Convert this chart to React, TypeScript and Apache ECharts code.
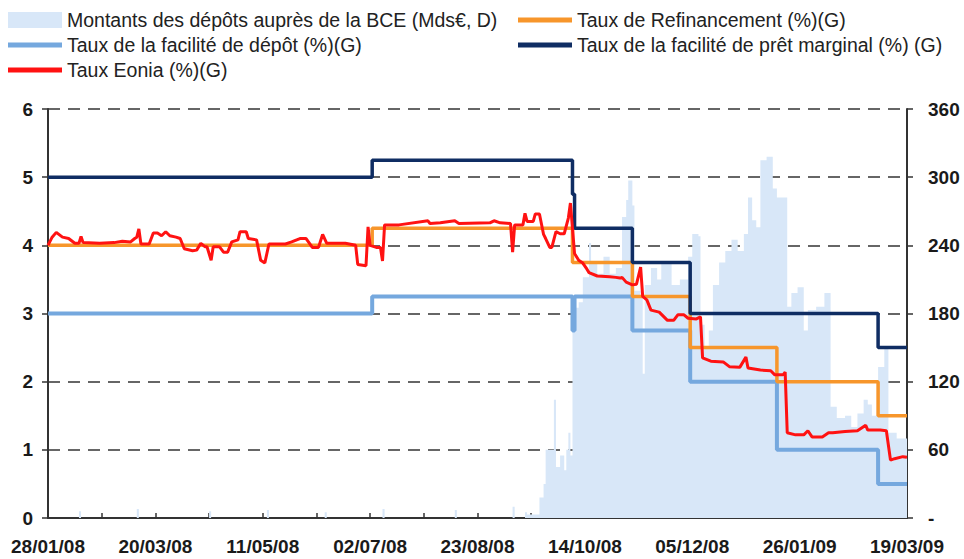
import React, { useEffect, useRef } from "react";
import * as echarts from "echarts";

// ---------- data ----------
const xTickLabels = ["28/01/08", "20/03/08", "11/05/08", "02/07/08", "23/08/08", "14/10/08", "05/12/08", "26/01/09", "19/03/09"];
const leftTicks = [0, 1, 2, 3, 4, 5, 6];
const rightTicks = [0, 60, 120, 180, 240, 300, 360];

const N_AMT = "Montants des dépôts auprès de la BCE (Mds€, D)";
const N_MRO = "Taux de Refinancement (%)(G)";
const N_DEP = "Taux de la facilité de dépôt (%)(G)";
const N_MLF = "Taux de la facilité de prêt marginal (%) (G)";
const N_EONIA = "Taux Eonia (%)(G)";

// Deposits at the ECB (bn €, right axis)
const amountDates = [
  "2008-01-28", "2008-02-12", "2008-02-13", "2008-03-11", "2008-03-12", "2008-04-15", "2008-04-16",
  "2008-05-13", "2008-05-14", "2008-06-10", "2008-06-11", "2008-07-08", "2008-07-09", "2008-08-12",
  "2008-08-13", "2008-09-09", "2008-09-10", "2008-09-15", "2008-09-16", "2008-09-22", "2008-09-24",
  "2008-09-25", "2008-09-29", "2008-09-30", "2008-10-02", "2008-10-04", "2008-10-05", "2008-10-06",
  "2008-10-07", "2008-10-08", "2008-10-11", "2008-10-13", "2008-10-16", "2008-10-17", "2008-10-20",
  "2008-10-23", "2008-10-26", "2008-10-29", "2008-11-01", "2008-11-03", "2008-11-04", "2008-11-06",
  "2008-11-07", "2008-11-10", "2008-11-11", "2008-11-12", "2008-11-15", "2008-11-18", "2008-11-20",
  "2008-11-25", "2008-11-29", "2008-12-03", "2008-12-05", "2008-12-08", "2008-12-09", "2008-12-11",
  "2008-12-13", "2008-12-15", "2008-12-18", "2008-12-21", "2008-12-24", "2008-12-27", "2008-12-30",
  "2009-01-01", "2009-01-03", "2009-01-05", "2009-01-07", "2009-01-10", "2009-01-13", "2009-01-15",
  "2009-01-20", "2009-01-22", "2009-01-25", "2009-01-28", "2009-01-30", "2009-02-03", "2009-02-07",
  "2009-02-10", "2009-02-13", "2009-02-17", "2009-02-20", "2009-02-23", "2009-02-26", "2009-02-28",
  "2009-03-02", "2009-03-05", "2009-03-08", "2009-03-10", "2009-03-14", "2009-03-19"
];
const amountValues = [
  0, 6, 0, 8, 0, 6, 0,
  7, 0, 5, 0, 8, 0, 7,
  0, 10, 0, 5, 3, 18, 30,
  60, 104, 45, 55, 42, 60, 75,
  55, 185, 190, 212, 242, 225, 215,
  230, 215, 220, 265, 280, 297, 275,
  200, 195, 127, 205, 220, 210, 225,
  205, 210, 230, 250, 248, 170, 150,
  165, 205, 225, 235, 245, 235, 250,
  282, 262, 256, 315, 318, 290, 282,
  186, 198, 203, 165, 183, 186, 198,
  98, 88, 90, 80, 92, 104, 100,
  90, 133, 150, 75, 70, 70
];

// Policy rates (%, left axis) — steps
const depRateDates = ["2008-01-28", "2008-07-03", "2008-10-08", "2008-10-09", "2008-11-06", "2008-12-04", "2009-01-15", "2009-03-05", "2009-03-19"];
const depRateValues = [3.0, 3.25, 2.75, 3.25, 2.75, 2.0, 1.0, 0.5, 0.5];
const mroDates = ["2008-01-28", "2008-07-03", "2008-10-08", "2008-11-06", "2008-12-04", "2009-01-15", "2009-03-05", "2009-03-19"];
const mroValues = [4.0, 4.25, 3.75, 3.25, 2.5, 2.0, 1.5, 1.5];
const mlfDates = ["2008-01-28", "2008-07-03", "2008-10-08", "2008-10-09", "2008-11-06", "2008-12-04", "2009-03-05", "2009-03-19"];
const mlfValues = [5.0, 5.25, 4.75, 4.25, 3.75, 3.0, 2.5, 2.5];

// Eonia (%, left axis)
const eoniaDates = [
  "2008-01-28", "2008-01-30", "2008-02-01", "2008-02-04", "2008-02-07", "2008-02-10", "2008-02-12",
  "2008-02-13", "2008-02-14", "2008-02-22", "2008-02-29", "2008-03-04", "2008-03-08", "2008-03-10",
  "2008-03-11", "2008-03-12", "2008-03-13", "2008-03-17", "2008-03-19", "2008-03-21", "2008-03-23",
  "2008-03-25", "2008-03-27", "2008-03-30", "2008-04-01", "2008-04-03", "2008-04-07", "2008-04-09",
  "2008-04-11", "2008-04-13", "2008-04-14", "2008-04-16", "2008-04-17", "2008-04-20", "2008-04-22",
  "2008-04-24", "2008-04-26", "2008-04-29", "2008-04-30", "2008-05-03", "2008-05-04", "2008-05-08",
  "2008-05-10", "2008-05-12", "2008-05-14", "2008-05-22", "2008-05-25", "2008-05-29", "2008-06-01",
  "2008-06-04", "2008-06-07", "2008-06-09", "2008-06-11", "2008-06-20", "2008-06-25", "2008-06-26",
  "2008-06-30", "2008-07-01", "2008-07-02", "2008-07-05", "2008-07-07", "2008-07-08", "2008-07-09",
  "2008-07-16", "2008-07-30", "2008-07-31", "2008-08-05", "2008-08-12", "2008-08-14", "2008-08-29",
  "2008-08-31", "2008-09-03", "2008-09-08", "2008-09-09", "2008-09-10", "2008-09-14", "2008-09-15",
  "2008-09-16", "2008-09-19", "2008-09-20", "2008-09-22", "2008-09-24", "2008-09-25", "2008-09-27",
  "2008-09-28", "2008-09-30", "2008-10-02", "2008-10-04", "2008-10-06", "2008-10-07", "2008-10-09",
  "2008-10-11", "2008-10-13", "2008-10-15", "2008-10-16", "2008-10-20", "2008-10-26", "2008-10-29",
  "2008-10-31", "2008-11-01", "2008-11-03", "2008-11-06", "2008-11-08", "2008-11-10", "2008-11-11",
  "2008-11-13", "2008-11-15", "2008-11-19", "2008-11-23", "2008-11-26", "2008-11-28", "2008-12-01",
  "2008-12-03", "2008-12-07", "2008-12-09", "2008-12-10", "2008-12-14", "2008-12-20", "2008-12-23",
  "2008-12-28", "2008-12-31", "2009-01-01", "2009-01-07", "2009-01-12", "2009-01-14", "2009-01-18",
  "2009-01-19", "2009-01-20", "2009-01-24", "2009-01-28", "2009-01-30", "2009-02-01", "2009-02-06",
  "2009-02-09", "2009-02-11", "2009-02-17", "2009-02-23", "2009-02-27", "2009-02-28", "2009-03-06",
  "2009-03-09", "2009-03-11", "2009-03-13", "2009-03-17", "2009-03-19"
];
const eoniaValues = [
  4.0, 4.12, 4.19, 4.12, 4.1, 4.03, 4.03,
  4.13, 4.04, 4.03, 4.04, 4.06, 4.05, 4.1,
  4.12, 4.24, 4.02, 4.02, 4.18, 4.18, 4.14,
  4.2, 4.14, 4.12, 4.1, 3.95, 3.92, 3.93,
  4.03, 3.98, 3.98, 3.78, 3.98, 3.98, 3.9,
  3.9, 4.05, 4.08, 4.2, 4.2, 4.1, 4.08,
  3.78, 3.74, 4.02, 4.02, 4.05, 4.1, 4.1,
  3.97, 3.97, 4.16, 4.03, 4.03, 4.0, 3.72,
  3.7, 4.27, 4.0, 3.97, 3.97, 3.77, 4.3,
  4.3, 4.36, 4.32, 4.33, 4.36, 4.32, 4.33,
  4.36, 4.33, 4.32, 3.9, 4.3, 4.3, 4.47,
  4.35, 4.35, 4.46, 4.46, 4.16, 4.1, 3.97,
  3.97, 4.2, 4.17, 4.17, 4.4, 4.62, 3.88,
  3.78, 3.74, 3.65, 3.6, 3.55, 3.54, 3.53,
  3.52, 3.53, 3.46, 3.42, 3.43, 3.68, 3.25,
  3.2, 3.05, 3.02, 2.9, 2.9, 2.98, 2.98,
  2.93, 2.92, 2.95, 2.35, 2.3, 2.29, 2.22,
  2.21, 2.36, 2.2, 2.17, 2.16, 2.1, 2.1,
  2.14, 1.25, 1.22, 1.22, 1.28, 1.19, 1.19,
  1.25, 1.25, 1.27, 1.28, 1.36, 1.29, 1.29,
  1.28, 0.85, 0.87, 0.9, 0.89
];

// ---------- helpers ----------
const START = Date.UTC(2008, 0, 28);
const dayOf = (s: string) => {
  const [y, m, d] = s.split("-").map(Number);
  return Math.round((Date.UTC(y, m - 1, d) - START) / 86400000);
};
const pairs = (dates: string[], values: number[]) => dates.map((d, i) => [dayOf(d), values[i]]);

const FONT = "'Liberation Sans', Arial, Helvetica, sans-serif";
const LINE_ICON = "path://M0,0h54v5h-54z";

const C_AMT = "#d8e7f8";
const C_DEP = "#75a8de";
const C_MRO = "#f7962b";
const C_MLF = "#0f2d63";
const C_EONIA = "#ff1212";

export default function App() {
  const ref = useRef<HTMLDivElement>(null);
  useEffect(() => {
    if (!ref.current) return;
    const chart = echarts.init(ref.current, undefined, { renderer: "svg" });
    const legendText = { fontFamily: FONT, fontSize: 19.5, color: "#222" };
    const axisLabelStyle = { fontFamily: FONT, fontSize: 19, fontWeight: "bold" as const, color: "#1a1a1a" };
    const axisLine = { show: true, lineStyle: { color: "#333", width: 2 } };

    const lineSeries = (name: string, data: number[][], color: string, width: number, z: number) => ({
      name,
      type: "line",
      step: "end",
      data,
      yAxisIndex: 0,
      symbol: "none",
      z,
      itemStyle: { color },
      lineStyle: { color, width },
    });

    const legendBase = {
      orient: "vertical",
      top: 10,
      padding: 0,
      itemWidth: 54,
      itemHeight: 16,
      itemGap: 5,
      selectedMode: false,
      textStyle: legendText,
    };

    chart.setOption({
      animation: false,
      backgroundColor: "#ffffff",
      grid: { left: 48, right: 57, top: 109, bottom: 41, containLabel: false },
      legend: [
        {
          ...legendBase,
          left: 8,
          data: [
            { name: N_AMT, icon: "rect", itemStyle: { color: C_AMT, borderWidth: 0 } },
            { name: N_DEP, icon: LINE_ICON, itemStyle: { color: C_DEP, borderWidth: 0 } },
            { name: N_EONIA, icon: LINE_ICON, itemStyle: { color: C_EONIA, borderWidth: 0 } },
          ],
        },
        {
          ...legendBase,
          left: 518,
          data: [
            { name: N_MRO, icon: LINE_ICON, itemStyle: { color: C_MRO, borderWidth: 0 } },
            { name: N_MLF, icon: LINE_ICON, itemStyle: { color: C_MLF, borderWidth: 0 } },
          ],
        },
      ],
      xAxis: {
        type: "value",
        min: 0,
        max: 416,
        interval: 26,
        axisLine,
        axisTick: { show: true, inside: true, length: 5, lineStyle: { color: "#333", width: 1.5 } },
        splitLine: { show: false },
        axisLabel: {
          ...axisLabelStyle,
          margin: 19,
          showMinLabel: true,
          showMaxLabel: true,
          formatter: (v: number) => (v % 52 === 0 ? xTickLabels[v / 52] ?? "" : ""),
        },
      },
      yAxis: [
        {
          type: "value",
          min: leftTicks[0],
          max: leftTicks[leftTicks.length - 1],
          interval: 1,
          axisLine,
          axisTick: { show: true, length: 6, lineStyle: { color: "#333", width: 1.5 } },
          axisLabel: { ...axisLabelStyle, margin: 15 },
          splitLine: { show: true, lineStyle: { type: [12, 8], color: "#666", width: 2 } },
        },
        {
          type: "value",
          min: rightTicks[0],
          max: rightTicks[rightTicks.length - 1],
          interval: 60,
          position: "right",
          axisLine,
          axisTick: { show: true, length: 6, lineStyle: { color: "#333", width: 1.5 } },
          axisLabel: {
            ...axisLabelStyle,
            margin: 21,
            formatter: (v: number) => (v === 0 ? "-" : String(v)),
          },
          splitLine: { show: false },
        },
      ],
      series: [
        {
          name: N_AMT,
          type: "line",
          step: "end",
          yAxisIndex: 1,
          data: pairs(amountDates, amountValues),
          symbol: "none",
          z: 1,
          itemStyle: { color: C_AMT },
          lineStyle: { width: 0, color: C_AMT },
          areaStyle: { color: C_AMT, opacity: 1 },
        },
        lineSeries(N_DEP, pairs(depRateDates, depRateValues), C_DEP, 4, 2),
        lineSeries(N_MRO, pairs(mroDates, mroValues), C_MRO, 3.5, 3),
        lineSeries(N_MLF, pairs(mlfDates, mlfValues), C_MLF, 3.5, 4),
        {
          name: N_EONIA,
          type: "line",
          data: pairs(eoniaDates, eoniaValues),
          yAxisIndex: 0,
          symbol: "none",
          z: 5,
          itemStyle: { color: C_EONIA },
          lineStyle: { color: C_EONIA, width: 3 },
        },
      ],
    });
    return () => chart.dispose();
  }, []);

  return (
    <div
      ref={ref}
      style={{ position: "fixed", left: 0, top: 0, width: 964, height: 559, background: "#fff" }}
    />
  );
}
